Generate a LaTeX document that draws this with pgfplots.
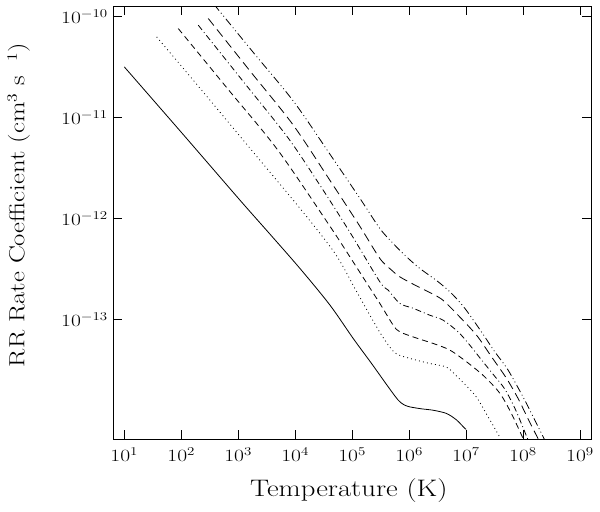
\documentclass[border=0pt]{standalone}
\usepackage{graphicx}
\usepackage{pgfplots}
\pgfplotsset{compat=1.18}
\newcommand{\tl}[1]{\scalebox{1.25}[1]{$10^{#1}$}}
\begin{document}
\begin{tikzpicture}
\useasboundingbox (0,0) rectangle (600bp,512bp);
\begin{axis}[
  at={(113.3bp,72.7bp)}, anchor=south west,
  scale only axis, width=477.7bp, height=432.8bp,
  xmode=log, ymode=log,
  xmin=6.41, xmax=1.56e9, ymin=6.49e-15, ymax=1.256e-10,
  xtick={1e1,1e2,1e3,1e4,1e5,1e6,1e7,1e8,1e9},
  xticklabels={\tl{1},\tl{2},\tl{3},\tl{4},\tl{5},\tl{6},\tl{7},\tl{8},\tl{9}},
  ytick={1e-13,1e-12,1e-11,1e-10},
  yticklabels={\tl{-13},\tl{-12},\tl{-11},\tl{-10}},
  xminorticks=false, yminorticks=false,
  tick align=inside, major tick length=9bp,
  tick style={black, line width=0.8bp},
  axis line style={line width=0.9bp},
  ticklabel style={font=\fontsize{18}{21}\selectfont},
  xticklabel style={yshift=-5bp},
  yticklabel style={xshift=-2bp},
  every axis x label/.style={at={(axis description cs:0.493,-0.131)}, anchor=base, font=\fontsize{24}{28}\selectfont},
  every axis y label/.style={at={(axis description cs:-0.186,0.541)}, rotate=90, anchor=base, font=\fontsize{22}{26}\selectfont},
  xlabel={\scalebox{1.2}[1]{Temperature (K)}},
  ylabel={\scalebox{1.22}[1]{RR Rate Coefficient (cm$^3$ s$^{\phantom{-}1}$)}},
  every axis plot/.append style={black, line width=0.8bp, no marks, smooth, tension=0.5},
]
% Curve 1: solid
\addplot[solid] coordinates {
(1.00e1,3.17e-11) (1.03e2,7.00e-12) (1.07e3,1.52e-12) (3.60e3,7.00e-13)
(1.21e4,3.20e-13) (4.06e4,1.39e-13) (1.04e5,6.49e-14) (2.19e5,3.66e-14)
(4.29e5,2.15e-14) (6.41e5,1.59e-14) (8.07e5,1.43e-14) (1.03e6,1.36e-14)
(1.67e6,1.30e-14) (2.64e6,1.26e-14) (4.53e6,1.17e-14) (6.79e6,1.01e-14)
(9.48e6,8.34e-15) (1.00e7,8.20e-15)
};
% Curve 2: dotted
\addplot[dash pattern=on 0.9bp off 3.2bp] coordinates {
(3.70e1,6.28e-11) (2.13e2,1.95e-11) (1.60e3,4.97e-12) (1.21e4,1.26e-12)
(4.97e4,4.53e-13) (1.11e5,2.04e-13) (2.19e5,1.03e-13) (3.28e5,7.00e-14)
(4.58e5,5.32e-14) (6.08e5,4.53e-14) (1.03e6,4.11e-14) (2.31e6,3.66e-14)
(4.53e6,3.37e-14) (6.79e6,2.75e-14) (1.02e7,2.19e-14) (1.52e7,1.70e-14)
(2.40e7,1.10e-14) (3.90e7,6.84e-15)
};
% Curve 3: dashed
\addplot[dash pattern=on 6bp off 4bp] coordinates {
(8.85e1,7.60e-11) (6.59e2,1.91e-11) (4.97e3,4.74e-12) (4.06e4,8.39e-13)
(9.12e4,4.17e-13) (1.67e5,2.45e-13) (3.06e5,1.44e-13) (5.24e5,8.79e-14)
(6.87e5,7.53e-14) (1.35e6,6.53e-14) (2.64e6,5.78e-14) (5.18e6,4.97e-14)
(1.02e7,3.80e-14) (2.05e7,2.75e-14) (3.90e7,1.86e-14) (6.34e7,1.15e-14)
(1.11e8,5.82e-15)
};
% Curve 4: dash-dot
\addplot[dash pattern=on 6bp off 3bp on 0.9bp off 3bp] coordinates {
(1.99e2,8.20e-11) (1.21e3,2.29e-11) (7.45e3,6.31e-12) (2.71e4,2.14e-12)
(9.12e4,7.31e-13) (3.06e5,2.36e-13) (4.29e5,1.95e-13) (6.87e5,1.44e-13)
(1.17e6,1.29e-13) (2.31e6,1.10e-13) (3.94e6,9.84e-14) (7.24e6,7.53e-14)
(1.16e7,5.57e-14) (1.88e7,3.95e-14) (3.06e7,2.81e-14) (4.78e7,2.04e-14)
(7.45e7,1.26e-14) (1.31e8,5.82e-15)
};
% Curve 5: long dashed
\addplot[dash pattern=on 9bp off 5bp] coordinates {
(2.98e2,9.55e-11) (1.60e3,2.90e-11) (9.12e3,8.49e-12) (4.06e4,2.39e-12)
(1.36e5,8.39e-13) (3.06e5,4.02e-13) (4.91e5,3.08e-13) (6.87e5,2.64e-13)
(1.26e6,2.19e-13) (3.23e6,1.67e-13) (4.53e6,1.44e-13) (7.24e6,1.10e-13)
(1.52e7,7.00e-14) (2.79e7,4.27e-14) (5.12e7,2.61e-14) (8.17e7,1.65e-14)
(1.21e8,1.05e-14) (2.05e8,5.82e-15)
};
% Curve 6: dash-dot-dot
\addplot[dash pattern=on 8bp off 3bp on 0.9bp off 3bp on 0.9bp off 3bp] coordinates {
(3.75e2,1.32e-10) (1.88e3,4.34e-11) (9.48e3,1.43e-11) (4.06e4,4.34e-12)
(1.36e5,1.59e-12) (3.06e5,7.96e-13) (5.24e5,5.65e-13) (9.00e5,4.17e-13)
(1.54e6,3.20e-13) (3.23e6,2.36e-13) (5.55e6,1.81e-13) (9.48e6,1.29e-13)
(1.86e7,7.53e-14) (3.19e7,4.78e-14) (5.46e7,3.15e-14) (1.07e8,1.59e-14)
(1.60e8,1.01e-14) (2.71e8,5.57e-15)
};
\end{axis}
\end{tikzpicture}
\end{document}
